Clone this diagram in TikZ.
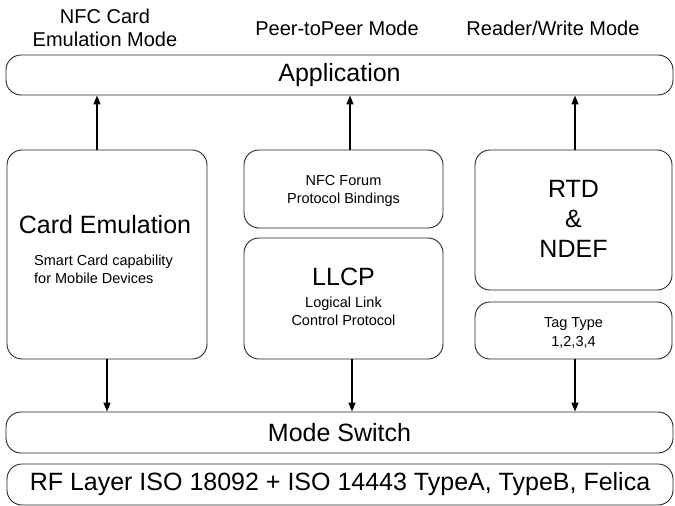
\documentclass[tikz,border=0pt]{standalone}
\usepackage{fontspec}
\setmainfont{Liberation Sans}
\usetikzlibrary{arrows.meta}
\begin{document}
\begin{tikzpicture}[x=1pt,y=-1pt,
  box/.style={draw=black!85,line width=0.9pt,rounded corners=15pt,inner sep=0pt},
  big/.style={font=\fontsize{25}{29}\selectfont,align=center,inner sep=0pt},
  toplbl/.style={font=\fontsize{20}{23}\selectfont,align=center,inner sep=0pt},
  small/.style={font=\fontsize{14.5}{18}\selectfont,align=center,inner sep=0pt},
  arr/.style={line width=1.6pt,-{Triangle[length=9pt,width=7pt]}}]
\useasboundingbox (0,0) rectangle (675,506);
% top labels
\node[toplbl] (l1) at (105,28) {NFC Card\\Emulation Mode};
\node[toplbl] (l2) at (337,28) {Peer-toPeer Mode};
\node[toplbl] (l3) at (553,28) {Reader/Write Mode};
% layers
\node[box,minimum width=667pt,minimum height=40pt] (app) at (339.5,75) {};
\node[big] (appt) at (app) {Application};
\node[box,minimum width=200pt,minimum height=209pt] (card) at (107,254.5) {};
\node[big] (cardt) at (105,225) {Card Emulation};
\node[small,align=left,anchor=west] (cards) at (34,269) {Smart Card capability\\for Mobile Devices};
\node[box,minimum width=199pt,minimum height=78pt] (nfc) at (343.5,189) {};
\node[small] (nfct) at (343.5,191) {NFC Forum\\Protocol Bindings};
\node[box,minimum width=199pt,minimum height=121pt] (llcp) at (343.5,298.5) {};
\node[big] (llcpt) at (343.5,277) {LLCP};
\node[small] (llcps) at (343.5,311) {Logical Link\\Control Protocol};
\node[box,minimum width=197pt,minimum height=140pt] (rtd) at (573.5,220) {};
\node[big,font=\fontsize{25}{30}\selectfont] (rtdt) at (573.5,219) {RTD\\\&\\NDEF};
\node[box,minimum width=197pt,minimum height=57pt] (tag) at (573.5,330.5) {};
\node[small,font=\fontsize{14.5}{19}\selectfont] (tagt) at (573.5,332.5) {Tag Type\\1,2,3,4};
\node[box,minimum width=667pt,minimum height=41pt] (ms) at (339.5,432.5) {};
\node[big] (mst) at (ms) {Mode Switch};
\node[box,minimum width=666pt,minimum height=41pt] (rf) at (340,484.5) {};
\node[big] (rft) at (rf) {RF Layer ISO 18092 + ISO 14443 TypeA, TypeB, Felica};
% arrows
\draw[arr] ([xshift=-10pt]card.north) -- ([xshift=-10pt]card.north |- app.south);
\draw[arr] ([xshift=6.5pt]nfc.north) -- ([xshift=6.5pt]nfc.north |- app.south);
\draw[arr] ([xshift=1.5pt]rtd.north) -- ([xshift=1.5pt]rtd.north |- app.south);
\draw[arr] (card.south) -- (card.south |- ms.north);
\draw[arr] ([xshift=8.5pt]llcp.south) -- ([xshift=8.5pt]llcp.south |- ms.north);
\draw[arr] ([xshift=1.5pt]tag.south) -- ([xshift=1.5pt]tag.south |- ms.north);
\end{tikzpicture}
\end{document}
